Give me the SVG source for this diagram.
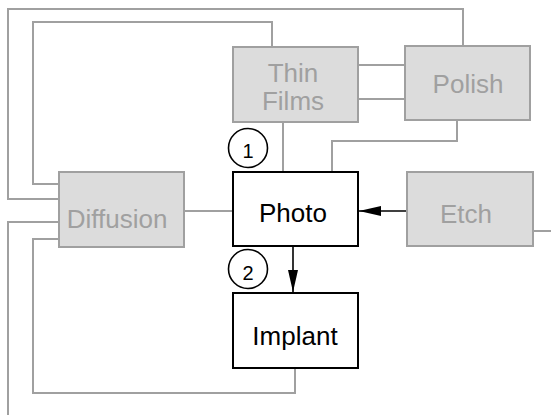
<svg xmlns="http://www.w3.org/2000/svg" width="551" height="415" viewBox="0 0 551 415">
  <style>
    .bg { fill: #ffffff; }
    .gbox { fill: #dcdcdc; stroke: #a0a0a0; stroke-width: 2; }
    .bbox { fill: #ffffff; stroke: #000000; stroke-width: 2; }
    .glbl { font-family: "Liberation Sans", Arial, sans-serif; font-size: 26px; fill: #a0a0a0; text-anchor: middle; }
    .blbl { font-family: "Liberation Sans", Arial, sans-serif; font-size: 26px; fill: #000000; text-anchor: middle; }
    .num { font-family: "Liberation Sans", Arial, sans-serif; font-size: 20px; fill: #000000; text-anchor: middle; }
    .gline { fill: none; stroke: #a0a0a0; stroke-width: 2; }
    .bline { fill: none; stroke: #000000; stroke-width: 1.6; }
    .step { fill: #ffffff; stroke: #000000; stroke-width: 1.6; }
  </style>
  <defs>
    <marker id="arrow" markerWidth="22" markerHeight="10" refX="22" refY="5" orient="auto" markerUnits="userSpaceOnUse">
      <path d="M0,0 L22,5 L0,10 Z" fill="#000000"/>
    </marker>
  </defs>
  <rect class="bg" x="0" y="0" width="551" height="415"/>

  <!-- connectors -->
  <g id="connectors">
    <!-- outer loop: Diffusion to Polish -->
    <polyline class="gline" points="59,199 8,199 8,9 463,9 463,46"/>
    <!-- inner loop: Diffusion to Thin Films -->
    <polyline class="gline" points="59,184 33,184 33,22 272,22 272,47"/>
    <!-- Diffusion down the left edge -->
    <polyline class="gline" points="59,222 8,222 8,415"/>
    <!-- Diffusion to Implant -->
    <polyline class="gline" points="59,239 33,239 33,393 295,393 295,368"/>
    <!-- Diffusion to Photo -->
    <line class="gline" x1="184" y1="211" x2="233" y2="211"/>
    <!-- Thin Films to Polish -->
    <line class="gline" x1="358" y1="65" x2="405" y2="65"/>
    <line class="gline" x1="358" y1="99" x2="405" y2="99"/>
    <!-- Thin Films to Photo -->
    <line class="gline" x1="283" y1="122" x2="283" y2="172"/>
    <!-- Polish to Photo -->
    <polyline class="gline" points="457,120 457,141 332,141 332,172"/>
    <!-- Etch out to the right -->
    <line class="gline" x1="533" y1="231" x2="551" y2="231"/>
    <!-- Etch to Photo -->
    <line class="bline" x1="407" y1="211" x2="359" y2="211" marker-end="url(#arrow)"/>
    <!-- Photo to Implant -->
    <line class="bline" x1="293" y1="246" x2="293" y2="292" marker-end="url(#arrow)"/>
  </g>

  <g id="thin-films">
    <rect class="gbox" x="233" y="47" width="125" height="75"/>
    <text class="glbl" x="293" y="82">Thin</text>
    <text class="glbl" x="293" y="110">Films</text>
  </g>

  <g id="polish">
    <rect class="gbox" x="405" y="46" width="125" height="74"/>
    <text class="glbl" x="468" y="93">Polish</text>
  </g>

  <g id="diffusion">
    <rect class="gbox" x="59" y="172" width="125" height="75"/>
    <text class="glbl" x="117" y="228">Diffusion</text>
  </g>

  <g id="etch">
    <rect class="gbox" x="407" y="172" width="126" height="74"/>
    <text class="glbl" x="466" y="223">Etch</text>
  </g>

  <g id="photo">
    <rect class="bbox" x="233" y="172" width="125" height="74"/>
    <text class="blbl" x="293" y="222">Photo</text>
  </g>

  <g id="implant">
    <rect class="bbox" x="233" y="293" width="125" height="75"/>
    <text class="blbl" x="295" y="345">Implant</text>
  </g>

  <g id="step-1">
    <circle class="step" cx="248" cy="148" r="19.5"/>
    <text class="num" x="248" y="158">1</text>
  </g>

  <g id="step-2">
    <circle class="step" cx="248" cy="269" r="19.5"/>
    <text class="num" x="248" y="280">2</text>
  </g>
</svg>
